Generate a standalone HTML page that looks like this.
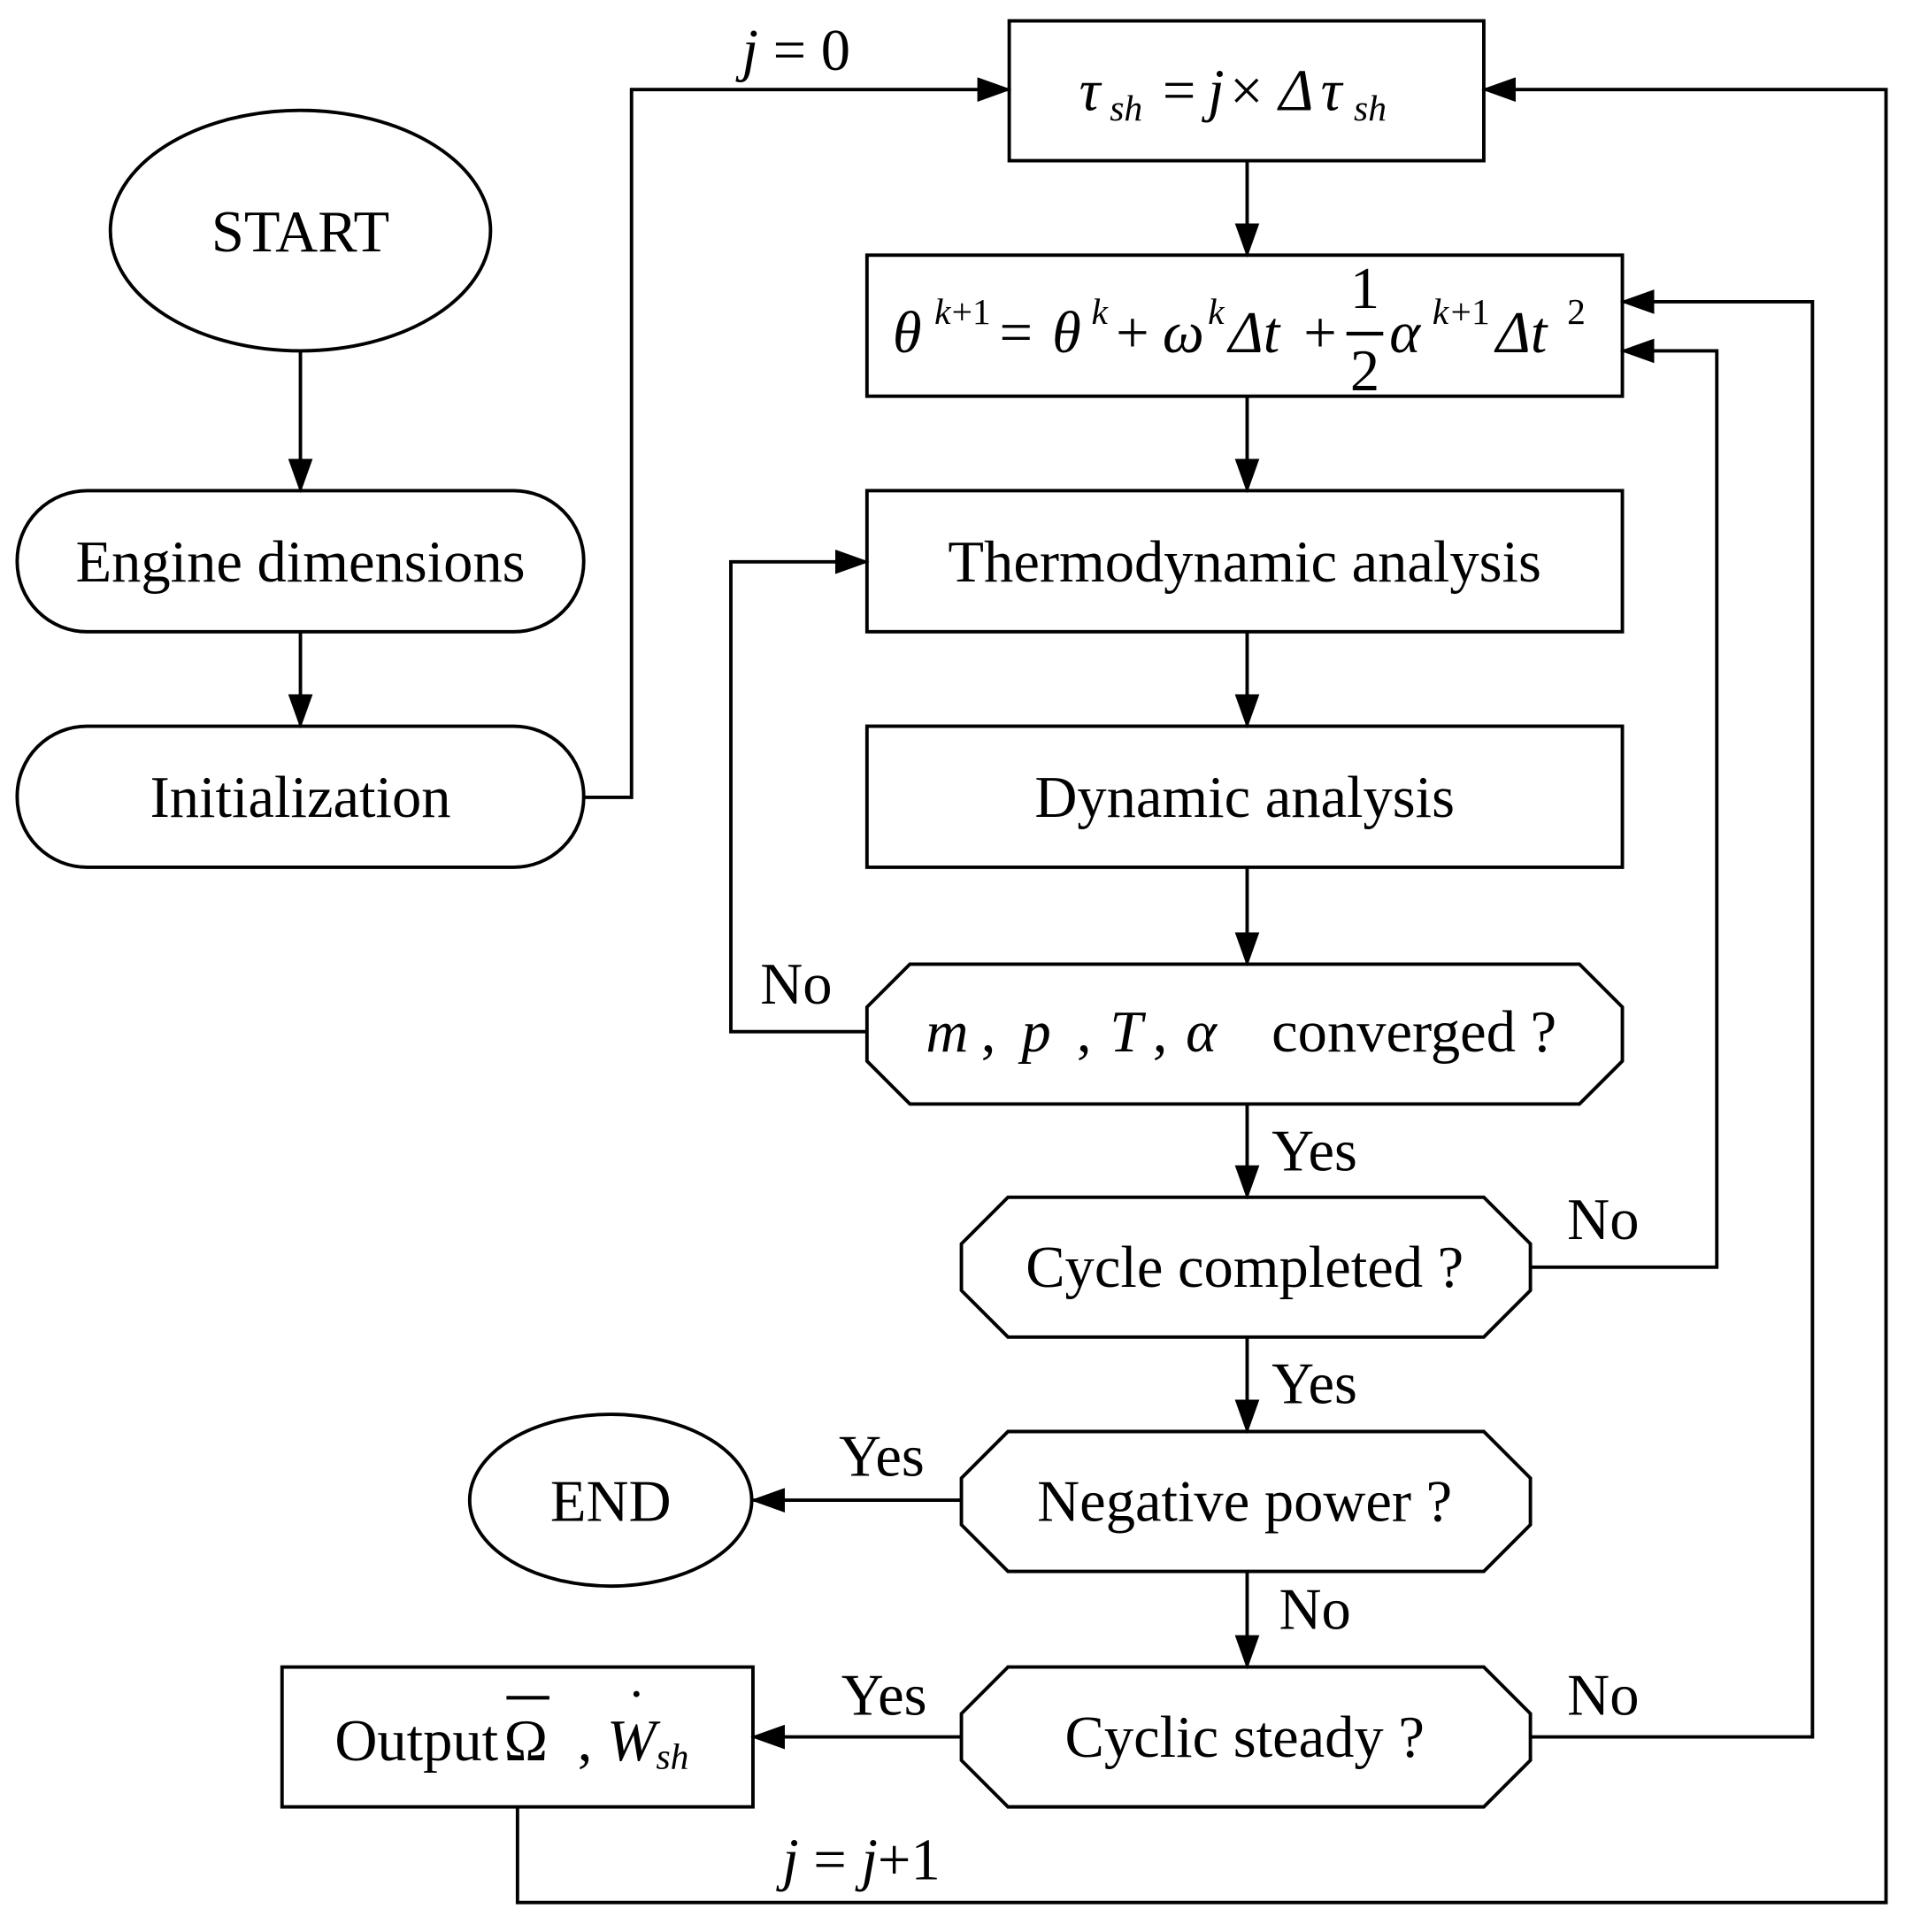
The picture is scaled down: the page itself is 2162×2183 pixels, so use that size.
<!DOCTYPE html>
<html><head><meta charset="utf-8"><style>
html,body{margin:0;padding:0;background:#fff}
svg{display:block}
text{font-family:"Liberation Serif",serif;font-size:48px;fill:#000}
.i{font-style:italic}
.s{font-size:30px}
</style></head><body>
<svg width="2162" height="2183" viewBox="0 0 1560 1575" preserveAspectRatio="none" xmlns="http://www.w3.org/2000/svg">
<defs>
<marker id="b" markerWidth="28" markerHeight="20" refX="26" refY="10" orient="auto" markerUnits="userSpaceOnUse" viewBox="0 0 28 20"><path d="M0,0 L28,10 L0,20 Z" fill="#000"/></marker></defs>
<g fill="none" stroke="#000" stroke-width="2.8">
<rect x="823" y="17" width="387" height="114"/>
<rect x="707" y="208" width="616" height="115"/>
<rect x="707" y="400" width="616" height="115"/>
<rect x="707" y="592" width="616" height="115"/>
<polygon points="742,786 1288,786 1323,821 1323,865 1288,900 742,900 707,865 707,821"/>
<polygon points="822,976 1210,976 1248,1014 1248,1052 1210,1090 822,1090 784,1052 784,1014"/>
<polygon points="822,1167 1210,1167 1248,1205 1248,1243 1210,1281 822,1281 784,1243 784,1205"/>
<polygon points="822,1359 1210,1359 1248,1397 1248,1435 1210,1473 822,1473 784,1435 784,1397"/>
<ellipse cx="245" cy="188" rx="155" ry="98"/>
<rect x="14" y="400" width="462" height="115" rx="57"/>
<rect x="14" y="592" width="462" height="115" rx="57"/>
<ellipse cx="498" cy="1223" rx="115" ry="70"/>
<rect x="230" y="1359" width="384" height="114"/>
<g marker-end="url(#b)">
<line x1="245" y1="286" x2="245" y2="400"/>
<line x1="245" y1="515" x2="245" y2="592"/>
<line x1="1017" y1="131" x2="1017" y2="208"/>
<line x1="1017" y1="323" x2="1017" y2="400"/>
<line x1="1017" y1="515" x2="1017" y2="592"/>
<line x1="1017" y1="707" x2="1017" y2="786"/>
<line x1="1017" y1="900" x2="1017" y2="976"/>
<line x1="1017" y1="1090" x2="1017" y2="1167"/>
<line x1="1017" y1="1281" x2="1017" y2="1359"/>
<polyline points="476,650 515,650 515,73 823,73"/>
<polyline points="422,1473 422,1551 1538,1551 1538,73 1210,73"/>
<polyline points="1248,1416 1478,1416 1478,246 1323,246"/>
<polyline points="1248,1033 1400,1033 1400,286 1323,286"/>
<polyline points="707,841 596,841 596,458 707,458"/>
<line x1="784" y1="1223" x2="614" y2="1223"/>
<line x1="784" y1="1416" x2="614" y2="1416"/>
</g>
</g>
<g text-anchor="middle">
<text x="245" y="205">START</text>
<text x="245" y="474">Engine dimensions</text>
<text x="245" y="666">Initialization</text>
<text x="1015" y="474">Thermodynamic analysis</text>
<text x="1015" y="666">Dynamic analysis</text>
<text x="1015" y="1049">Cycle completed ?</text>
<text x="1015" y="1240">Negative power ?</text>
<text x="1015" y="1432">Cyclic steady ?</text>
<text x="498" y="1240">END</text>
</g>
<text x="755" y="857" class="i">m</text>
<text x="800" y="857">,</text>
<text x="833" y="857" class="i">p</text>
<text x="878" y="857">,</text>
<text x="905" y="857" class="i">T</text>
<text x="940" y="857">,</text>
<text x="967" y="857" class="i">α</text>
<text x="1037" y="857">converged ?</text>
<text x="880" y="90" class="i">τ</text><text x="905" y="98" class="i s">sh</text>
<text x="948" y="90">=</text>
<text x="985" y="90" class="i">j</text><text x="1003" y="90">×</text>
<text x="1043" y="90" class="i">Δ</text><text x="1077" y="90" class="i">τ</text><text x="1104" y="98" class="i s">sh</text>
<text x="728" y="287" class="i">θ</text><text x="762" y="264" class="s i">k</text><text x="776" y="264" class="s">+1</text>
<text x="815" y="287">=</text>
<text x="858" y="287" class="i">θ</text><text x="890" y="264" class="s i">k</text>
<text x="910" y="287">+</text>
<text x="948" y="287" class="i">ω</text><text x="985" y="264" class="s i">k</text>
<text x="1002" y="287" class="i">Δt</text>
<text x="1063" y="287">+</text>
<text x="1113" y="251" text-anchor="middle">1</text>
<line x1="1098" y1="272" x2="1128" y2="272" stroke="#000" stroke-width="3"/>
<text x="1113" y="318" text-anchor="middle">2</text>
<text x="1133" y="287" class="i">α</text><text x="1168" y="264" class="s i">k</text><text x="1183" y="264" class="s">+1</text>
<text x="1220" y="287" class="i">Δt</text><text x="1278" y="264" class="s">2</text>
<text x="273" y="1435">Output</text>
<text x="411" y="1435">Ω</text>
<line x1="413" y1="1384" x2="448" y2="1384" stroke="#000" stroke-width="3"/>
<text x="471" y="1435">,</text>
<text x="495" y="1435" class="i">W</text><text x="535" y="1442" class="i s">sh</text>
<circle cx="519" cy="1381" r="2.5" fill="#000"/>
<text x="605" y="57"><tspan class="i">j</tspan> = 0</text>
<text x="638" y="1532"><tspan class="i">j</tspan> = <tspan class="i">j</tspan>+1</text>
<text x="620" y="818">No</text>
<text x="1037" y="954">Yes</text>
<text x="1278" y="1010">No</text>
<text x="1037" y="1144">Yes</text>
<text x="684" y="1203">Yes</text>
<text x="1043" y="1328">No</text>
<text x="686" y="1398">Yes</text>
<text x="1278" y="1398">No</text>
</svg>
</body></html>
